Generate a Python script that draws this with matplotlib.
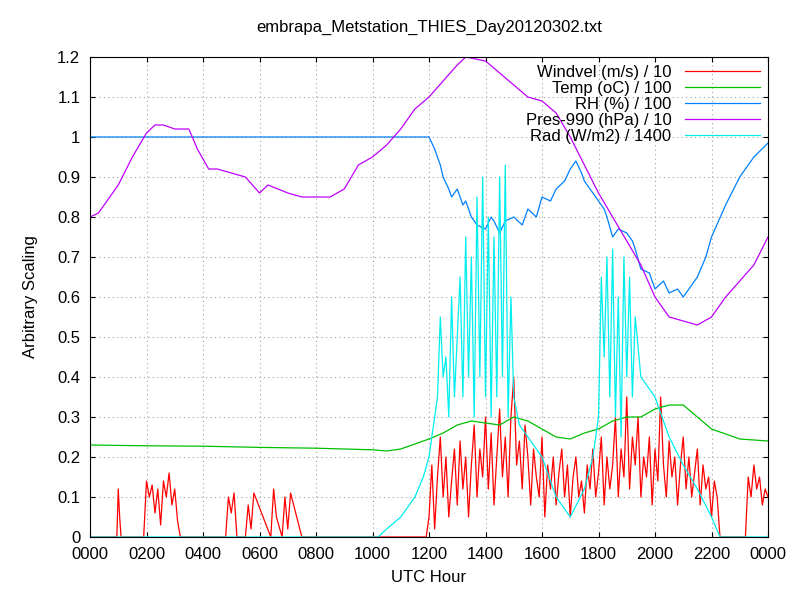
import matplotlib
matplotlib.use("Agg")
import matplotlib.pyplot as plt
import numpy as np

plt.rcParams['font.family'] = ['Liberation Sans', 'DejaVu Sans']

pres_t = [0,0.3,0.6,1.0,1.5,2.0,2.3,2.6,3.0,3.5,3.8,4.2,4.5,5.0,5.5,6.0,6.3,7.0,7.5,8.0,8.5,9.0,9.5,10.0,10.5,11,11.5,12,12.5,13,13.3,14,14.5,15,15.5,16,16.5,17,17.5,18,18.5,19,19.5,20,20.5,21,21.5,22,22.5,23,23.5,24]
pres_v = [0.80,0.81,0.84,0.88,0.95,1.01,1.03,1.03,1.02,1.02,0.97,0.92,0.92,0.91,0.90,0.86,0.88,0.86,0.85,0.85,0.85,0.87,0.93,0.95,0.98,1.02,1.07,1.10,1.14,1.18,1.20,1.19,1.16,1.13,1.10,1.09,1.06,1.00,0.93,0.86,0.80,0.74,0.68,0.60,0.55,0.54,0.53,0.55,0.60,0.64,0.68,0.75]

rh_t = [0,12.0,12.2,12.4,12.5,12.7,12.8,13,13.2,13.3,13.5,13.7,14,14.2,14.3,14.5,14.7,15,15.3,15.5,15.8,16,16.3,16.5,16.8,17,17.2,17.4,17.5,17.8,18,18.2,18.3,18.5,18.7,19,19.2,19.3,19.5,19.8,20,20.3,20.5,20.8,21,21.2,21.5,21.8,22,22.5,23,23.5,24]
rh_v = [1.0,1.0,0.97,0.93,0.90,0.87,0.85,0.87,0.83,0.84,0.80,0.78,0.77,0.80,0.79,0.76,0.79,0.80,0.78,0.82,0.80,0.85,0.84,0.87,0.89,0.92,0.94,0.91,0.89,0.86,0.84,0.82,0.80,0.75,0.77,0.76,0.74,0.72,0.67,0.66,0.62,0.64,0.61,0.62,0.60,0.62,0.65,0.70,0.75,0.83,0.90,0.95,0.985]

temp_t = [0,2,4,6,8,10,10.5,11,12,12.5,13,13.5,14,14.5,15,15.5,16,16.5,17,17.5,18,18.5,19,19.5,20,20.5,21,21.5,22,23,24]
temp_v = [0.23,0.228,0.227,0.224,0.222,0.218,0.215,0.22,0.245,0.26,0.28,0.29,0.285,0.28,0.30,0.29,0.27,0.25,0.245,0.26,0.27,0.29,0.30,0.30,0.32,0.33,0.33,0.30,0.27,0.245,0.24]

wind_t = [0,0.95,1.0,1.05,1.1,1.9,2.0,2.1,2.2,2.3,2.4,2.5,2.6,2.7,2.8,2.9,3.0,3.1,3.2,4.8,4.9,5.0,5.1,5.2,5.5,5.6,5.7,5.8,6.4,6.5,6.6,6.8,6.9,7.0,7.1,7.5,11.9,
          12.0,12.1,12.2,12.3,12.4,12.5,12.6,12.7,12.8,12.9,13.0,13.1,13.2,13.3,13.4,13.5,13.6,13.7,13.8,13.9,14.0,14.1,14.2,14.3,14.4,14.5,14.6,14.7,14.8,14.9,15.0,15.1,15.2,15.3,15.4,15.5,15.6,15.7,15.8,15.9,16.0,16.1,16.2,16.3,16.4,16.5,16.6,16.7,16.8,16.9,17.0,17.1,17.2,17.3,17.4,17.5,17.6,17.7,17.8,17.9,18.0,18.1,18.2,18.3,18.4,18.5,18.6,18.7,18.8,18.9,19.0,19.1,19.2,19.3,19.4,19.5,19.6,19.7,19.8,19.9,20.0,20.1,20.2,20.3,20.4,20.5,20.6,20.7,20.8,20.9,21.0,21.1,21.2,21.3,21.4,21.5,21.6,21.7,21.8,21.9,22.0,22.1,22.2,22.3,23.2,23.3,23.4,23.5,23.6,23.7,23.8,23.9,24.0]
wind_v = [0,0,0.12,0.05,0,0,0.14,0.10,0.13,0.06,0.12,0.03,0.14,0.10,0.16,0.08,0.12,0.04,0,0,0.10,0.06,0.11,0,0,0.08,0.02,0.11,0,0.12,0.05,0,0.10,0.02,0.11,0,0,
          0.05,0.18,0.02,0.15,0.25,0.10,0.20,0.05,0.14,0.22,0.08,0.24,0.12,0.20,0.05,0.18,0.28,0.10,0.22,0.15,0.30,0.12,0.26,0.08,0.20,0.32,0.15,0.25,0.10,0.30,0.40,0.18,0.24,0.12,0.28,0.20,0.08,0.22,0.15,0.10,0.25,0.05,0.18,0.12,0.20,0.08,0.16,0.22,0.10,0.18,0.05,0.15,0.20,0.10,0.14,0.06,0.18,0.12,0.22,0.10,0.16,0.25,0.08,0.20,0.12,0.18,0.30,0.10,0.22,0.15,0.35,0.12,0.25,0.18,0.30,0.10,0.20,0.15,0.25,0.08,0.22,0.14,0.35,0.18,0.10,0.24,0.15,0.20,0.08,0.18,0.25,0.12,0.20,0.10,0.16,0.22,0.08,0.18,0.12,0.15,0.05,0.14,0.10,0,0,0.15,0.10,0.18,0.12,0.15,0.08,0.12,0.10]

rad_t = [0,10.2,10.5,11,11.5,11.8,12.0,12.2,12.3,12.4,12.5,12.6,12.7,12.8,12.9,13.0,13.1,13.2,13.3,13.4,13.5,13.6,13.7,13.8,13.9,14.0,14.1,14.2,14.3,14.4,14.5,14.6,14.7,14.8,14.9,15.0,15.2,15.5,16,16.5,17,17.5,17.8,18.0,18.1,18.2,18.3,18.4,18.5,18.6,18.7,18.8,18.9,19.0,19.1,19.2,19.3,19.5,20,20.5,21,21.5,22,22.3,24]
rad_v = [0,0,0.02,0.05,0.10,0.15,0.20,0.30,0.35,0.55,0.40,0.45,0.30,0.60,0.35,0.50,0.65,0.35,0.75,0.40,0.70,0.30,0.85,0.40,0.90,0.35,0.80,0.30,0.75,0.35,0.90,0.40,0.93,0.30,0.60,0.35,0.28,0.25,0.20,0.10,0.05,0.12,0.20,0.30,0.65,0.45,0.70,0.35,0.72,0.30,0.60,0.25,0.70,0.40,0.65,0.35,0.55,0.40,0.35,0.25,0.18,0.12,0.05,0,0]

fig = plt.figure(figsize=(8,6), dpi=100)
ax = fig.add_axes([0.1125, 0.105, 0.8475, 0.8])
ax.plot(wind_t, wind_v, color='#ff0000', lw=0.9, label='Windvel (m/s) / 10')
ax.plot(temp_t, temp_v, color='#00c000', lw=0.9, label='Temp (oC) / 100')
ax.plot(rh_t, rh_v, color='#0080ff', lw=0.9, label='RH (%) / 100')
ax.plot(pres_t, pres_v, color='#c000ff', lw=0.9, label='Pres-990 (hPa) / 10')
ax.plot(rad_t, rad_v, color='#00eeee', lw=0.9, label='Rad (W/m2) / 1400')
ax.set_xlim(0, 24); ax.set_ylim(0, 1.2)
ax.set_xticks(np.arange(0, 25, 2))
ax.set_xticklabels(['0000','0200','0400','0600','0800','1000','1200','1400','1600','1800','2000','2200','0000'])
ax.set_yticks(np.arange(0, 1.21, 0.1))
ax.set_yticklabels(['0','0.1','0.2','0.3','0.4','0.5','0.6','0.7','0.8','0.9','1','1.1','1.2'])
ax.grid(True, color='#a0a0a0', ls=(0,(1,3)), lw=0.8)
ax.tick_params(direction='in', labelsize=12, top=True, right=True)
ax.tick_params(axis='x', pad=7)
ax.tick_params(axis='y', pad=7)
ax.set_xlabel('UTC Hour', fontsize=12, labelpad=6)
ax.set_ylabel('Arbitrary Scaling', fontsize=12, labelpad=14)
ax.set_title('embrapa_Metstation_THIES_Day20120302.txt', fontsize=12, pad=18)
leg = ax.legend(loc='upper right', frameon=False, fontsize=12, markerfirst=False, handlelength=4.5, borderaxespad=0.1, labelspacing=0.05)
for t in leg.get_texts(): t.set_ha('right')
leg._legend_box.align = 'right'
fig.savefig('out.png')
